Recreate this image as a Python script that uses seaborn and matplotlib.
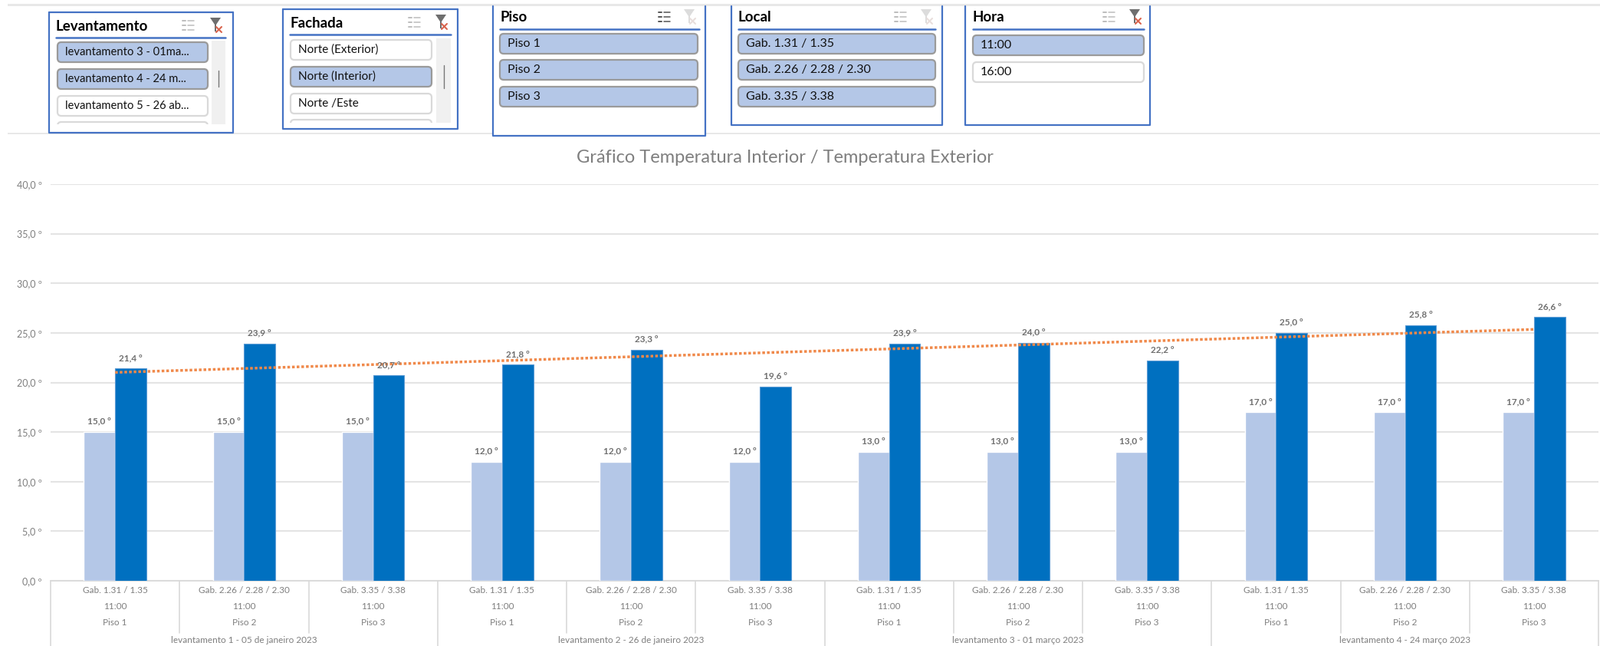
import numpy as np
import pandas as pd
import seaborn as sns
import matplotlib.pyplot as plt
from matplotlib.patches import FancyBboxPatch, Rectangle, Polygon
from matplotlib.transforms import blended_transform_factory

locais = ['Gab. 1.31 / 1.35', 'Gab. 2.26 / 2.28 / 2.30', 'Gab. 3.35 / 3.38'] * 4
horas = ['11:00'] * 12
pisos = ['Piso 1', 'Piso 2', 'Piso 3'] * 4
levantamentos = ['levantamento 1 - 05 de janeiro 2023', 'levantamento 2 - 26 de janeiro 2023',
                 'levantamento 3 - 01 março 2023', 'levantamento 4 - 24 março 2023']
temp_exterior = [15.0, 15.0, 15.0, 12.0, 12.0, 12.0, 13.0, 13.0, 13.0, 17.0, 17.0, 17.0]
temp_interior = [21.4, 23.9, 20.7, 21.8, 23.3, 19.6, 23.9, 24.0, 22.2, 25.0, 25.8, 26.6]
y_ticks = [0, 5, 10, 15, 20, 25, 30, 35, 40]

slicer_levantamento = [('levantamento 3 - 01ma...', True), ('levantamento 4 - 24 m...', True),
                       ('levantamento 5 - 26 ab...', False), ('', False)]
slicer_fachada = [('Norte (Exterior)', False), ('Norte (Interior)', True), ('Norte /Este', False), ('', False)]
slicer_piso = [('Piso 1', True), ('Piso 2', True), ('Piso 3', True)]
slicer_local = [('Gab. 1.31 / 1.35', True), ('Gab. 2.26 / 2.28 / 2.30', True), ('Gab. 3.35 / 3.38', True)]
slicer_hora = [('11:00', True), ('16:00', False)]

sns.set_theme(style='white')
plt.rcParams['font.family'] = ['Lato', 'DejaVu Sans']

W, H = 2087, 842
n = len(locais)
keys = [str(i) for i in range(n)]
df = pd.DataFrame({'key': keys + keys,
                   'serie': ['Exterior'] * n + ['Interior'] * n,
                   'temp': temp_exterior + temp_interior})

fig = plt.figure(figsize=(W / 100, H / 100), dpi=100)
ax = fig.add_axes([66 / W, (H - 757) / H, 2019 / W, 517 / H])

sns.barplot(data=df, x='key', y='temp', hue='serie', order=keys,
            palette=['#B4C7E7', '#0070C0'], width=0.485, gap=0, legend=False,
            saturation=1, ax=ax, zorder=3)
for c in ax.containers:
    ax.bar_label(c, labels=[f'{b.get_height():.1f} º'.replace('.', ',') for b in c],
                 padding=6, fontsize=8.5, color='#6f6f6f', fontweight='bold', zorder=5)
for b in ax.containers[1]:
    b.set_edgecolor('#5B9BD5')
    b.set_linewidth(0.8)

# linha de tendencia do interior
sns.regplot(x=np.arange(n), y=np.array(temp_interior), scatter=False, ci=None, ax=ax,
            line_kws={'color': '#F0894A', 'lw': 2.5, 'ls': (0, (1, 0.75)), 'zorder': 4,
                      'dash_capstyle': 'butt'})

ax.set_xlim(-0.5, n - 0.5)
ax.set_ylim(0, 40)
ax.set_xlabel('')
ax.set_ylabel('')
ax.set_yticks(y_ticks)
ax.set_yticklabels([f'{v:.1f} º'.replace('.', ',') for v in y_ticks], fontsize=9, color='#7f7f7f')
ax.tick_params(axis='y', length=0, pad=8)
ax.grid(axis='y', color='#e4e4e4', lw=1.5, zorder=0)
ax.set_axisbelow(True)
sns.despine(ax=ax, left=True, top=True, right=True)
ax.spines['bottom'].set_color('#d9d9d9')
ax.spines['bottom'].set_linewidth(1.3)
ax.set_xticks(range(n))
ax.set_xticklabels([f'{a}\n{b}\n{c}' for a, b, c in zip(locais, horas, pisos)],
                   fontsize=8.5, color='#7f7f7f', linespacing=2.1)
ax.tick_params(axis='x', length=0, pad=5)

# camada em pixeis para os filtros e o eixo multinivel
ov = fig.add_axes([0, 0, 1, 1], zorder=10)
ov.set_xlim(0, W)
ov.set_ylim(H, 0)
ov.axis('off')
ov.patch.set_alpha(0)
tr = blended_transform_factory(ax.transData, ov.transData)

for i in range(n + 1):
    if i % 3 == 0:
        ov.plot([i - 0.5, i - 0.5], [757, 842], color='#d9d9d9', lw=1.2, transform=tr)
    else:
        ov.plot([i - 0.5, i - 0.5], [757, 825], color='#d9d9d9', lw=1.2, transform=tr)
for j, nome in enumerate(levantamentos):
    ov.text(3 * j + 1, 835, nome, transform=tr, ha='center', va='center', fontsize=8.5, color='#7f7f7f')

ov.text(1024, 205, 'Gráfico Temperatura Interior / Temperatura Exterior',
        ha='center', va='center', fontsize=17, color='#7f7f7f')

ov.add_patch(Rectangle((10, 5), W - 10, 3, fc='#e8e8e8', ec='none'))
ov.add_patch(Rectangle((10, 173), W - 10, 2, fc='#e8e8e8', ec='none'))


def icons(x1, x2, y, dark1, dark2):
    c1 = '#555555' if dark1 else '#bdbdbd'
    for k in range(3):
        ov.plot([x1 - 7, x1 - 3], [y - 6 + 6 * k] * 2, color=c1, lw=1.4, zorder=6)
        ov.plot([x1, x1 + 8], [y - 6 + 6 * k] * 2, color=c1, lw=1.1, zorder=6)
    c2 = '#6e6e6e' if dark2 else '#dcdcdc'
    ov.add_patch(Polygon([(x2 - 7, y - 10), (x2 + 7, y - 10), (x2 + 1, y - 1), (x2 + 1, y + 8), (x2 - 1, y + 8), (x2 - 1, y - 1)],
                         fc=c2, ec='none', zorder=6))
    cx = '#d9634c' if dark2 else '#e8dedc'
    ov.plot([x2 + 1, x2 + 8], [y + 2, y + 9], color=cx, lw=1.5, zorder=7)
    ov.plot([x2 + 1, x2 + 8], [y + 9, y + 2], color=cx, lw=1.5, zorder=7)


def slicer(box, title, title_x, title_y, line, items, btn_x, btn_ys, btn_h, clip_y=None, scroll=None, ic=None, fs=11.5):
    x0, y0, x1, y1, has_top = box
    ov.add_patch(Rectangle((x0, y0), x1 - x0, y1 - y0, fc='white', ec='none', zorder=2))
    ov.plot([x0, x0, x1, x1], [y0, y1, y1, y0], color='#4472C4', lw=1.6, zorder=6)
    if has_top:
        ov.plot([x0, x1], [y0, y0], color='#4472C4', lw=1.6, zorder=6)
    ov.text(title_x, title_y, title, fontsize=13.5, fontweight='bold', color='black',
            ha='left', va='center', zorder=6)
    ov.plot(line[:2], [line[2]] * 2, color='#4472C4', lw=1.8, zorder=6)
    for (label, sel), yb in zip(items, btn_ys):
        p = FancyBboxPatch((btn_x[0], yb + 2), btn_x[1] - btn_x[0], btn_h - 4,
                           boxstyle='round,pad=0,rounding_size=5',
                           fc='#B4C7E7' if sel else 'white',
                           ec='#9a9a9a' if sel else '#d9d9d9', lw=1.6, zorder=4)
        ov.add_patch(p)
        if clip_y is not None:
            p.set_clip_path(Rectangle((0, 0), W, clip_y, transform=ov.transData))
        if label:
            ov.text(btn_x[0] + 10, yb + btn_h / 2, label, fontsize=fs, color='#111111',
                    ha='left', va='center', zorder=6)
    if scroll:
        sx0, sx1, sy0, sy1, ty0, ty1 = scroll
        ov.add_patch(Rectangle((sx0, sy0), sx1 - sx0, sy1 - sy0, fc='#f0f0f0', ec='none', zorder=3))
        ov.plot([(sx0 + sx1) / 2] * 2, [ty0, ty1], color='#777777', lw=1, zorder=5)
    icons(*ic)


slicer((64, 16, 304, 173, True), 'Levantamento', 73, 34, (73, 294, 49), slicer_levantamento,
       (75, 271), [53, 88, 123, 157], 30, clip_y=162, scroll=(276, 294, 53, 162, 92, 113),
       ic=(245, 281, 33, False, True), fs=10.6)
slicer((369, 12, 597, 168, True), 'Fachada', 379, 30, (378, 588, 45), slicer_fachada,
       (379, 563), [50, 85, 120, 154], 30, clip_y=160, scroll=(569, 588, 50, 160, 85, 115),
       ic=(540, 575, 29, False, True), fs=11)
slicer((643, 8, 920, 177, False), 'Piso', 653, 23, (652, 912, 38), slicer_piso,
       (652, 910), [42, 76, 111], 30, ic=(866, 899, 22, True, False))
slicer((954, 8, 1229, 163, False), 'Local', 963, 23, (963, 1220, 38), slicer_local,
       (963, 1220), [42, 76, 111], 30, ic=(1174, 1208, 22, False, False))
slicer((1259, 8, 1500, 163, False), 'Hora', 1269, 23, (1269, 1492, 38), slicer_hora,
       (1269, 1492), [44, 79], 30, ic=(1446, 1480, 22, False, True))

fig.savefig('out.png', dpi=100)
